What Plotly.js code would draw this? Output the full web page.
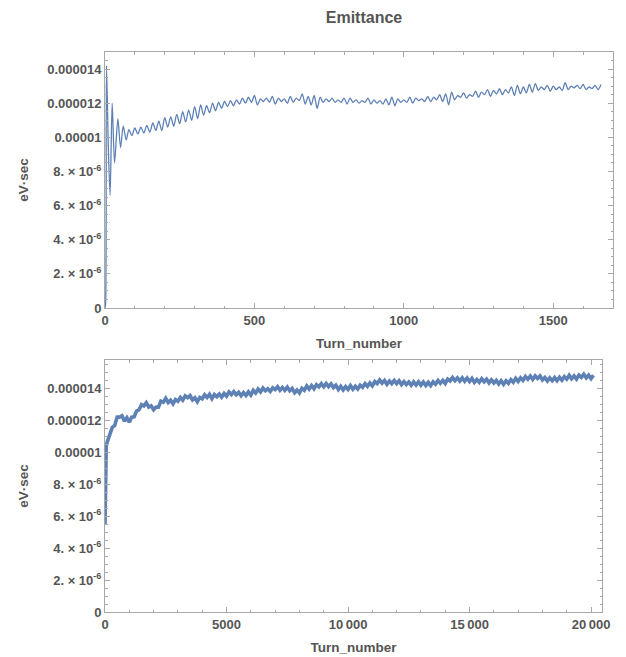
<!DOCTYPE html>
<html>
<head>
<meta charset="utf-8">
<script src="https://cdn.plot.ly/plotly-3.0.1.min.js"></script>
<style>html,body{margin:0;padding:0;background:#fff;}#chart{width:626px;height:657px;}</style>
</head>
<body>
<div id="chart"></div>
<script>
// ---- Data (emittance values in units of 1e-6 eV·sec) ----
const topEarlyTurns = [0, 2, 5, 11, 17, 24, 32, 43, 52, 61, 71];
const topEarlyValues = [0, 0.3, 14.2, 9.5, 6.6, 12.0, 8.5, 11.1, 9.4, 10.65, 9.85];
const topGridStart = 80, topGridStep = 10;
const topGridValues = [
  10.45,10.1,10.55,10.2,10.6,10.25,10.7,10.3,10.85,10.4,
  10.95,10.4,11.15,10.6,11.2,10.65,11.35,10.8,11.5,10.9,
  11.6,11.0,11.8,11.1,11.9,11.3,11.85,11.45,12.0,11.55,
  12.05,11.7,12.1,11.8,12.15,11.85,12.2,11.95,12.3,12.0,
  12.35,12.05,12.45,11.9,12.25,12.1,12.3,12.05,12.4,11.95,
  12.3,12.1,12.25,12.0,12.4,12.05,12.3,12.15,12.55,11.95,
  12.4,11.9,12.45,11.7,12.35,12.05,12.25,12.1,12.3,12.05,
  12.2,12.05,12.3,11.95,12.3,12.05,12.2,12.0,12.15,12.05,
  12.3,11.95,12.2,12.0,12.15,11.95,12.25,11.9,12.35,11.85,
  12.25,12.05,12.2,12.05,12.35,12.0,12.3,12.15,12.25,12.1,
  12.4,12.1,12.35,12.2,12.5,12.1,12.55,11.9,12.65,12.2,
  12.45,12.35,12.6,12.3,12.5,12.4,12.7,12.35,12.65,12.5,
  12.8,12.4,12.75,12.55,12.85,12.5,12.8,12.6,12.95,12.45,
  13.05,12.55,12.95,12.6,13.1,12.65,13.15,12.75,12.95,12.8,
  13.05,12.7,13.0,12.8,12.95,12.75,13.2,12.8,13.0,12.9,
  13.05,12.85,13.1,12.8,12.95,12.85,13.05,12.8,13.1
];

const bottomEarlyTurns = [0, 20, 50];
const bottomEarlyValues = [5.5, 10.0, 10.4];
const bottomGridStart = 100, bottomGridStep = 100;
const bottomGridValues = [
  10.7,11.08,11.58,11.7,12.22,12.22,12.3,11.96,12.18,11.9,
  12.22,12.24,12.6,12.68,13.0,12.92,13.12,12.85,12.93,12.68,
  12.85,12.84,13.22,13.15,13.4,13.13,13.28,13.05,13.32,13.22,
  13.45,13.28,13.55,13.44,13.57,13.3,13.43,13.18,13.45,13.37,
  13.62,13.45,13.65,13.38,13.63,13.5,13.67,13.47,13.7,13.53,
  13.8,13.64,13.82,13.62,13.78,13.56,13.75,13.57,13.8,13.6,
  13.9,13.73,13.98,13.8,14.04,13.87,14.0,13.83,14.05,13.94,
  14.12,13.9,14.08,13.9,14.1,13.87,14.02,13.75,13.92,13.73,
  14.03,13.9,14.17,13.97,14.2,14.0,14.25,14.12,14.32,14.12,
  14.33,14.13,14.3,14.07,14.22,13.95,14.15,13.93,14.13,13.95,
  14.2,13.97,14.15,13.98,14.22,14.09,14.32,14.15,14.36,14.18,
  14.45,14.32,14.54,14.35,14.52,14.28,14.48,14.32,14.52,14.32,
  14.5,14.26,14.45,14.26,14.42,14.22,14.43,14.23,14.43,14.22,
  14.42,14.2,14.4,14.2,14.43,14.28,14.52,14.34,14.52,14.33,
  14.6,14.49,14.7,14.5,14.68,14.48,14.68,14.47,14.67,14.45,
  14.65,14.4,14.58,14.4,14.62,14.44,14.6,14.36,14.55,14.36,
  14.52,14.3,14.5,14.28,14.5,14.34,14.57,14.4,14.65,14.46,
  14.68,14.52,14.77,14.6,14.8,14.58,14.8,14.64,14.8,14.55,
  14.7,14.48,14.68,14.5,14.7,14.5,14.72,14.53,14.76,14.6,
  14.84,14.62,14.8,14.6,14.85,14.71,14.9,14.68,14.85,14.63,
  14.84
];

const yTickVals = [0, 2, 4, 6, 8, 10, 12, 14];
const yTickText = ['0', '2. × 10<sup>-6</sup>', '4. × 10<sup>-6</sup>', '6. × 10<sup>-6</sup>',
                   '8. × 10<sup>-6</sup>', '0.00001', '0.000012', '0.000014'];
const topXTickVals = [0, 500, 1000, 1500];
const topXTickText = ['0', '500', '1000', '1500'];
const botXTickVals = [0, 5000, 10000, 15000, 20000];
const botXTickText = ['0', '5000', '10\u2009000', '15\u2009000', '20\u2009000'];

// ---- Build series ----
const topX = topEarlyTurns.slice();
const topY = topEarlyValues.slice();
topGridValues.forEach((v, i) => { topX.push(topGridStart + i * topGridStep); topY.push(v); });
const botX = bottomEarlyTurns.slice();
const botY = bottomEarlyValues.slice();
bottomGridValues.forEach((v, i) => { botX.push(bottomGridStart + i * bottomGridStep); botY.push(v); });

const lineColor = '#5E81B5';
const W = 626, H = 657;
const FONT = 'Liberation Sans, Arial, Helvetica, sans-serif';
const labelFont = {family: FONT, size: 13, color: '#555555', weight: 'bold'};
const frameColor = '#a8a8a8';

function xAxis(domain, range, tv, tt, minorStep, anchor) {
  return {
    domain: domain, range: range, anchor: anchor,
    tickmode: 'array', tickvals: tv, ticktext: tt,
    ticks: 'inside', ticklen: 5, tickwidth: 1, tickcolor: frameColor,
    showline: true, linecolor: frameColor, linewidth: 1, mirror: 'ticks',
    showgrid: false, zeroline: false, tickfont: labelFont,
    minor: {dtick: minorStep, ticks: 'inside', ticklen: 2.5, tickcolor: frameColor, showgrid: false},
    title: {text: 'Turn_number', font: {family: FONT, size: 13.5, color: '#555555', weight: 'bold'}, standoff: 11},
    automargin: false
  };
}
function yAxis(domain, range, anchor) {
  return {
    domain: domain, range: range, anchor: anchor,
    tickmode: 'array', tickvals: yTickVals, ticktext: yTickText,
    ticks: 'inside', ticklen: 5, tickwidth: 1, tickcolor: frameColor,
    showline: true, linecolor: frameColor, linewidth: 1, mirror: 'ticks',
    showgrid: false, zeroline: false, tickfont: labelFont,
    minor: {dtick: 0.5, ticks: 'inside', ticklen: 2.5, tickcolor: frameColor, showgrid: false},
    title: {text: 'eV·sec', font: {family: FONT, size: 13.5, color: '#555555', weight: 'bold'}, standoff: 15},
    automargin: false
  };
}

const data = [
  {x: topX, y: topY, type: 'scatter', mode: 'lines', xaxis: 'x', yaxis: 'y',
   line: {color: lineColor, width: 1.3, shape: 'spline', smoothing: 0.8}, hoverinfo: 'skip', showlegend: false},
  {x: botX, y: botY, type: 'scatter', mode: 'lines', xaxis: 'x2', yaxis: 'y2',
   line: {color: lineColor, width: 3.6}, hoverinfo: 'skip', showlegend: false}
];

const layout = {
  width: W, height: H,
  margin: {l: 0, r: 0, t: 0, b: 0, pad: 0},
  paper_bgcolor: '#ffffff', plot_bgcolor: '#ffffff',
  showlegend: false,
  title: {text: 'Emittance', x: 364 / W, xanchor: 'center', xref: 'paper',
          y: 1 - 17 / H, yanchor: 'middle',
          font: {family: FONT, size: 16, color: '#555555', weight: 'bold'}},
  xaxis: xAxis([105 / W, 613 / W], [0, 1700], topXTickVals, topXTickText, 100, 'y'),
  yaxis: yAxis([(H - 308) / H, (H - 52) / H], [0, 15.0], 'x'),
  xaxis2: xAxis([105 / W, 602 / W], [0, 20450], botXTickVals, botXTickText, 1000, 'y2'),
  yaxis2: yAxis([(H - 612) / H, (H - 360) / H], [0, 15.8], 'x2')
};

Plotly.newPlot('chart', data, layout, {staticPlot: true, displayModeBar: false});
</script>
</body>
</html>
